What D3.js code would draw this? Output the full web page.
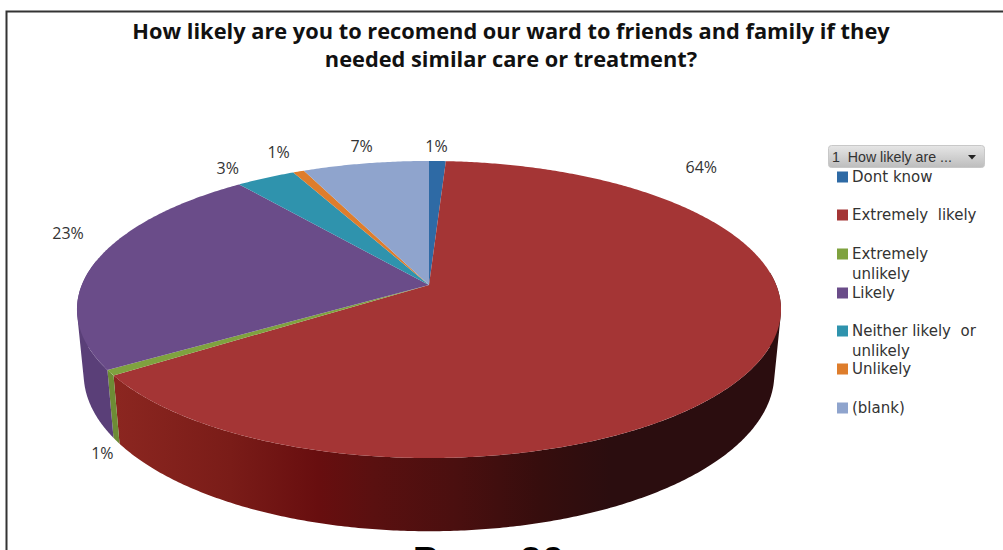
<!DOCTYPE html>
<html>
<head>
<meta charset="utf-8">
<script src="https://cdn.jsdelivr.net/npm/d3@7"></script>
<style>
html,body{margin:0;padding:0;background:#fff;overflow:hidden}
svg{display:block}
</style>
</head>
<body>
<svg id="c" width="1003" height="550"></svg>
<script>
const titleLines = ["How likely are you to recomend our ward to friends and family if they", "needed similar care or treatment?"];
const categories = ["Dont know", "Extremely likely", "Extremely unlikely", "Likely", "Neither likely or unlikely", "Unlikely", "(blank)"];
const values = [0.9, 64.5, 0.6, 23.4, 3.2, 0.6, 6.8];
const percentLabels = ["1%", "64%", "1%", "23%", "3%", "1%", "7%"];
const legendLines = [["Dont know"], ["Extremely  likely"], ["Extremely", "unlikely"], ["Likely"], ["Neither likely  or", "unlikely"], ["Unlikely"], ["(blank)"]];
const filterLabel = "1  How likely are ...";
const pageText = "Page 29";

const topColors = ["#2e6aa5", "#a43535", "#7fa23f", "#6a4c89", "#2f93ad", "#de7d2c", "#8fa4cd"];
const sideColors = [null, null, "#6d8c35", "#5a3f78", null, null, null];
const redShadeAngles = [153, 164, 176, 188, 196, 210, 236];
const redShadeColors = ["#2b0d0f", "#360d0d", "#4a0f0f", "#5a1010", "#680e0f", "#7a1c18", "#8b2620"];
const labelOffsets = [[-1, -15], [-57, -195], [-8, 81], [-28, -28], [-38, -10], [-20, -19], [-4, -17]];
const legendRowY = [177, 215, 254, 293, 331, 369, 408];

const svg = d3.select("#c");
const defs = svg.append("defs");
const bg = defs.append("linearGradient").attr("id", "btn").attr("x1", 0).attr("x2", 0).attr("y1", 0).attr("y2", 1);
bg.append("stop").attr("offset", 0).attr("stop-color", "#e6e6e6");
bg.append("stop").attr("offset", 1).attr("stop-color", "#bdbdbd");

// frame
svg.append("path").attr("d", d3.line()([[1003, 11.5], [6.5, 11.5], [6.5, 550]]))
  .attr("fill", "none").attr("stroke", "#333").attr("stroke-width", 2);

// title
svg.append("g").selectAll("text").data(titleLines).join("text")
  .attr("x", 511).attr("y", (d, i) => 39 + i * 28)
  .attr("text-anchor", "middle")
  .attr("font-family", "'Open Sans'").attr("font-weight", 700).attr("font-size", 21.8)
  .attr("fill", "#111").text(d => d);

// perspective projection of a pie plane
const cx = 429, k = 0.165;
const upper = {y0: 285, rx: 347.2, ry: 144.5};
const lower = {y0: 348, rx: 340.6, ry: 153};
function project(deg, p) {
  const t = deg * Math.PI / 180, u = Math.sin(t), v = Math.cos(t), d = 1 + k * v;
  return [cx + p.rx * u / d, p.y0 - p.ry * v / d];
}
const arcs = d3.pie().sort(null).value(d => d).startAngle(0).endAngle(2 * Math.PI)(values)
  .map((a, i) => ({i, a0: a.startAngle * 180 / Math.PI, a1: a.endAngle * 180 / Math.PI}));

// red wall shading runs along x, following the rim
const gx0 = project(redShadeAngles[redShadeAngles.length - 1], lower)[0];
const gx1 = project(redShadeAngles[0], lower)[0];
const redGrad = defs.append("linearGradient").attr("id", "redWall").attr("gradientUnits", "userSpaceOnUse")
  .attr("x1", gx0).attr("y1", 0).attr("x2", gx1).attr("y2", 0);
redShadeAngles.map((a, i) => ({a, c: redShadeColors[i]})).reverse().forEach(s => {
  redGrad.append("stop").attr("offset", (project(s.a, lower)[0] - gx0) / (gx1 - gx0)).attr("stop-color", s.c);
});

// side wall: one path of equally wound quads, so the band stays whole where it folds at the rim's extremes
const wall = svg.append("g");
arcs.forEach(s => {
  const isRed = s.i === 1;
  if (!isRed && !sideColors[s.i]) return;
  const from = Math.max(s.a0, 85), to = Math.min(s.a1, 280);
  if (to <= from) return;
  const samples = d3.range(from, to, 0.5).concat([to]);
  const d = d3.pairs(samples).map(([a, b]) => {
    const q = [project(a, upper), project(b, upper), project(b, lower), project(a, lower)];
    if (d3.polygonArea(q) < 0) q.reverse();
    return d3.line()(q) + "Z";
  }).join("");
  wall.append("path").attr("d", d).attr("fill-rule", "nonzero")
    .attr("fill", isRed ? "url(#redWall)" : sideColors[s.i]);
});

// top faces
svg.append("g").selectAll("path").data(arcs).join("path")
  .attr("d", s => {
    const n = Math.max(2, Math.ceil((s.a1 - s.a0) * 2));
    const pts = d3.range(n + 1).map(j => project(s.a0 + (s.a1 - s.a0) * j / n, upper));
    return d3.line()([[cx, upper.y0], ...pts]) + "Z";
  })
  .attr("fill", s => topColors[s.i]);

// percent labels
svg.append("g").selectAll("text").data(arcs).join("text")
  .attr("transform", s => {
    const p = project((s.a0 + s.a1) / 2, upper), o = labelOffsets[s.i];
    return `translate(${p[0] + o[0]},${p[1] + o[1]})`;
  })
  .attr("text-anchor", "middle").attr("dy", "0.36em")
  .attr("font-family", "'Open Sans'").attr("font-size", 16).attr("fill", "#333")
  .text(s => percentLabels[s.i]);

// filter button
svg.append("rect").attr("x", 828.5).attr("y", 145.5).attr("width", 156).attr("height", 22).attr("rx", 3)
  .attr("fill", "url(#btn)").attr("stroke", "#c8c8c8");
svg.append("text").attr("x", 832).attr("y", 161.5).attr("font-family", "'Liberation Sans'").attr("font-size", 14.2).attr("fill", "#333")
  .style("white-space", "pre").text(filterLabel);
svg.append("path").attr("d", d3.line()([[968, 155], [976, 155], [972, 159.5]]) + "Z").attr("fill", "#222");

// legend
const legend = svg.append("g").selectAll("g").data(categories).join("g")
  .attr("transform", (d, i) => `translate(0,${legendRowY[i]})`);
legend.append("rect").attr("x", 837).attr("y", -5.5).attr("width", 11).attr("height", 11).attr("fill", (d, i) => topColors[i]);
legend.each(function (d, i) {
  d3.select(this).selectAll("text").data(legendLines[i]).join("text")
    .attr("x", 852).attr("y", (l, j) => 5 + j * 20)
    .style("white-space", "pre")
    .attr("font-family", "'DejaVu Sans'").attr("font-size", 15).attr("fill", "#333")
    .text(l => l);
});

// page footer, cut by the bottom edge as in the reference
svg.append("text").attr("x", 412).attr("y", 575).attr("font-family", "'Liberation Sans'").attr("font-size", 41).attr("fill", "#000").text(pageText);
</script>
</body>
</html>
